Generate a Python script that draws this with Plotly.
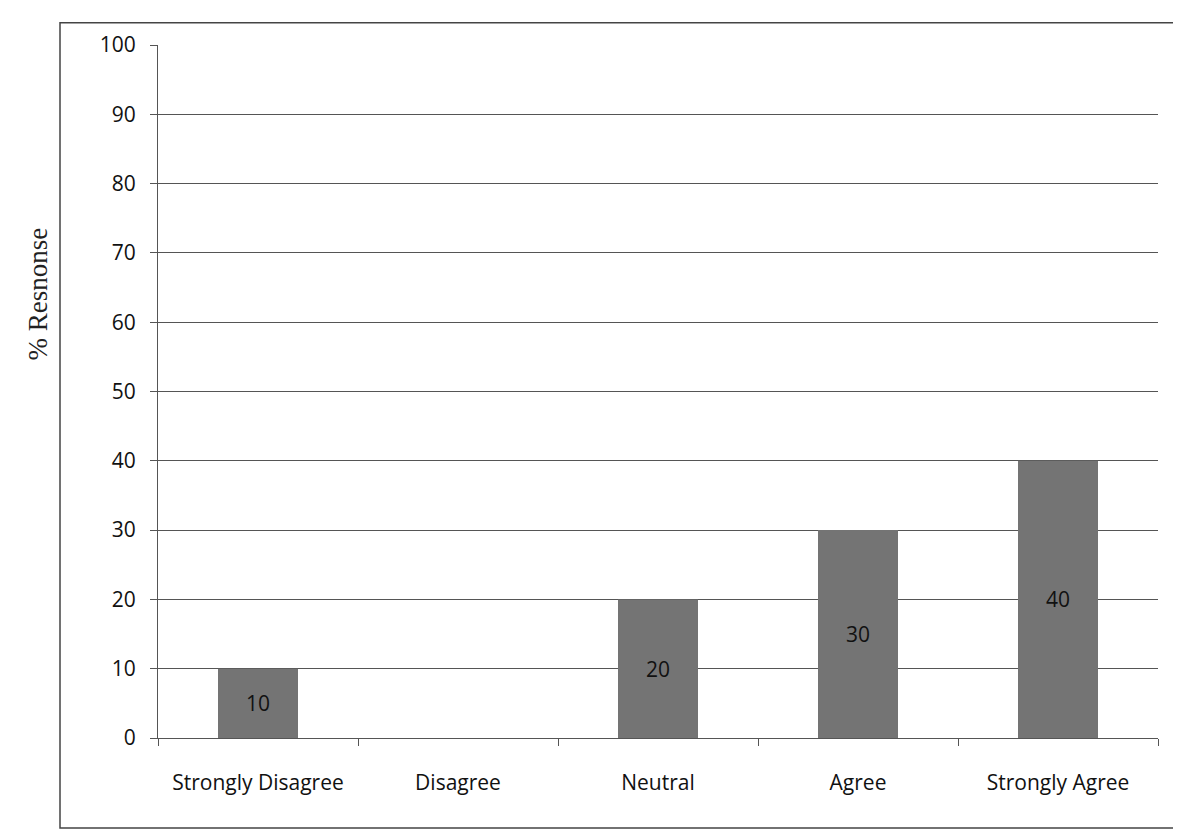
import plotly.graph_objects as go

categories = ["Strongly Disagree", "Disagree", "Neutral", "Agree", "Strongly Agree"]
responses = [10, 0, 20, 30, 40]
bar_labels = ["10", "", "20", "30", "40"]
y_ticks = [0, 10, 20, 30, 40, 50, 60, 70, 80, 90, 100]

fig = go.Figure()

fig.add_trace(go.Bar(
    x=categories,
    y=responses,
    text=bar_labels,
    textposition="inside",
    insidetextanchor="middle",
    textfont=dict(family="Open Sans", size=21, color="#111111"),
    marker=dict(color="#747474", line=dict(width=0)),
    width=0.4,
    showlegend=False,
    hoverinfo="skip",
))

fig.update_layout(
    width=1181,
    height=831,
    margin=dict(l=150, r=31, t=37, b=101),
    paper_bgcolor="white",
    plot_bgcolor="white",
    font=dict(family="Open Sans", size=21, color="#111111"),
    xaxis=dict(
        showline=True,
        linecolor="#555555",
        linewidth=1.2,
        ticks="outside",
        tickson="boundaries",
        ticklen=7,
        tickcolor="#555555",
        ticklabelstandoff=26,
        showgrid=False,
        tickfont=dict(family="Open Sans", size=21, color="#111111"),
    ),
    yaxis=dict(
        range=[0, 100],
        tickvals=y_ticks,
        showline=True,
        linecolor="#555555",
        linewidth=1.2,
        ticks="outside",
        ticklen=7,
        tickcolor="#555555",
        ticklabelstandoff=10,
        showgrid=True,
        gridcolor="#555555",
        gridwidth=1.2,
        zeroline=False,
        tickfont=dict(family="Open Sans", size=21, color="#111111"),
    ),
    shapes=[dict(
        type="rect", xref="paper", yref="paper",
        x0=-0.098, x1=1.025, y0=-0.13, y1=1.032,
        line=dict(color="#444444", width=1.5),
        fillcolor="rgba(0,0,0,0)",
        layer="below",
    )],
    annotations=[dict(
        text="% Resnonse",
        xref="paper", yref="paper",
        x=-0.12, y=0.64,
        xanchor="center", yanchor="middle",
        textangle=-90,
        showarrow=False,
        font=dict(family="Liberation Serif", size=27, color="#222222"),
    )],
)

fig.write_html("out.html")
